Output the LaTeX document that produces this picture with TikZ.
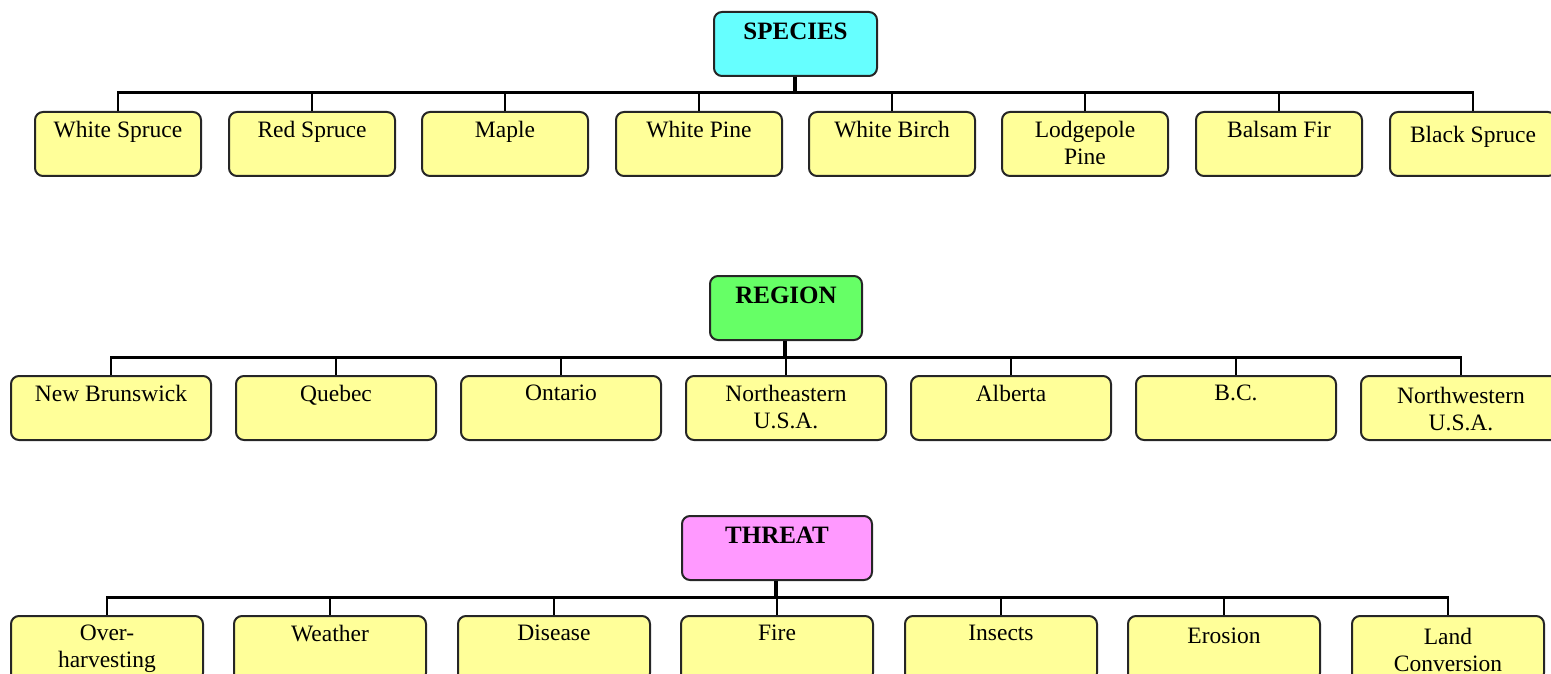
\documentclass[tikz,border=0pt]{standalone}
\usepackage{fontspec}
\setmainfont{Liberation Serif}
\definecolor{leafc}{HTML}{FFFF99}
\definecolor{specc}{HTML}{66FFFF}
\definecolor{regc}{HTML}{66FF66}
\definecolor{thrc}{HTML}{FF99FF}
\tikzset{
  box/.style={draw=black!85, line width=2pt, rounded corners=8pt, inner sep=0pt, anchor=north west},
  leaf/.style={box, fill=leafc},
  lbl/.style={anchor=north, inner sep=0pt, align=center, font=\fontsize{23.5}{26.5}\selectfont},
  rlbl/.style={anchor=north, inner sep=0pt, font=\fontsize{25}{28}\selectfont\bfseries},
  bar/.style={line width=3pt, shorten <=-1pt, shorten >=-1pt},
  stem/.style={line width=4.5pt},
  twig/.style={line width=2pt},
}
\begin{document}
\begin{tikzpicture}[x=1pt,y=-1pt]
\useasboundingbox (0,0) rectangle (1551,674);
\clip (0,0) rectangle (1551,674);
% ---------------- SPECIES ----------------
\node[box, fill=specc, minimum width=163pt, minimum height=64pt] (sr) at (713,11) {};
\node[rlbl] (srt) at ([yshift=-12pt]sr.north) {SPECIES};
\coordinate (sbar) at (795,93);
\foreach \i/\x/\t/\d in {1/34/White Spruce/0, 2/228/Red Spruce/0, 3/421/Maple/0, 4/615/White Pine/0, 5/808/White Birch/0, 6/1001/Lodgepole\\Pine/0, 7/1195/Balsam Fir/0, 8/1389/Black Spruce/5}{
  \node[leaf, minimum width=166pt, minimum height=64pt] (s\i) at (\x,111) {};
  \node[lbl] (s\i t) at ([yshift=-10pt-\d pt]s\i.north) {\t};
  \draw[twig] (s\i.north) -- (s\i.north |- sbar);
}
\draw[stem] (sr.south -| sbar) -- (sbar);
\draw[bar] (s1.north |- sbar) -- (s8.north |- sbar);
% ---------------- REGION ----------------
\node[box, fill=regc, minimum width=152pt, minimum height=64pt] (rr) at (709,275) {};
\node[rlbl] (rrt) at ([yshift=-12pt]rr.north) {REGION};
\coordinate (rbar) at (785,357);
\foreach \i/\x/\t/\d in {1/10/New Brunswick/0, 2/235/Quebec/0, 3/460/Ontario/0, 4/685/Northeastern\\U.S.A./0, 5/910/Alberta/0, 6/1135/B.C./0, 7/1360/Northwestern\\U.S.A./2}{
  \node[leaf, minimum width=200pt, minimum height=64pt] (r\i) at (\x,375) {};
  \node[lbl] (r\i t) at ([yshift=-10pt-\d pt]r\i.north) {\t};
  \draw[twig] (r\i.north) -- (r\i.north |- rbar);
}
\draw[stem] (rr.south -| rbar) -- (rbar);
\draw[bar] (r1.north |- rbar) -- (r7.north |- rbar);
% ---------------- THREAT ----------------
\node[box, fill=thrc, minimum width=190pt, minimum height=64pt] (tr) at (681,515) {};
\node[rlbl] (trt) at ([yshift=-12pt]tr.north) {THREAT};
\coordinate (tbar) at (776,597);
\foreach \i/\x/\t/\d in {1/10/Over-\\harvesting/0, 2/233/Weather/0, 3/457/Disease/0, 4/680/Fire/0, 5/904/Insects/0, 6/1127/Erosion/3, 7/1351/Land\\Conversion/3}{
  \node[leaf, minimum width=192pt, minimum height=65pt] (t\i) at (\x,615) {};
  \node[lbl] (t\i t) at ([yshift=-10pt-\d pt]t\i.north) {\t};
  \draw[twig] (t\i.north) -- (t\i.north |- tbar);
}
\draw[stem] (tr.south -| tbar) -- (tbar);
\draw[bar] (t1.north |- tbar) -- (t7.north |- tbar);
\end{tikzpicture}
\end{document}
